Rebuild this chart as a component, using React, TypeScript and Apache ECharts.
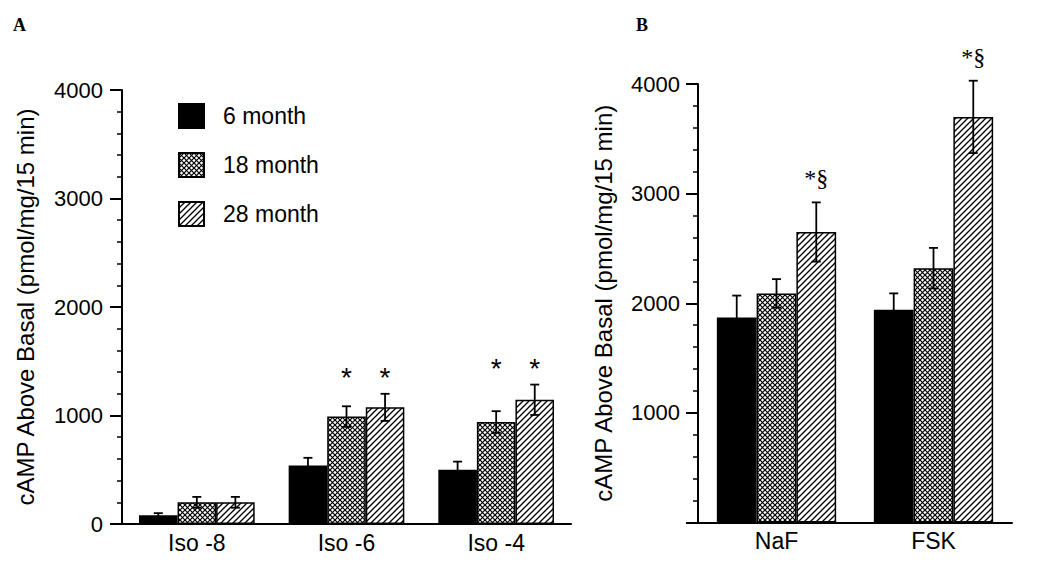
import React, { useEffect, useRef } from 'react';
import * as echarts from 'echarts';

// ---------- data ----------
const seriesNames = ['6 month', '18 month', '28 month'];

const categoriesA = ['Iso -8', 'Iso -6', 'Iso -4'];
const month6A = [80, 540, 500];
const month6AErr = [20, 70, 75];
const month18A = [200, 990, 940];
const month18AErr = [50, 95, 100];
const month28A = [200, 1075, 1145];
const month28AErr = [50, 125, 140];
const sig18A = ['', '*', '*'];
const sig28A = ['', '*', '*'];

const categoriesB = ['NaF', 'FSK'];
const month6B = [1870, 1940];
const month6BErr = [200, 150];
const month18B = [2090, 2320];
const month18BErr = [130, 185];
const month28B = [2650, 3700];
const month28BErr = [270, 330];
const sig28B = ['*§', '*§'];

const yTicks = [0, 1000, 2000, 3000, 4000];

const SANS = 'Liberation Sans, Arial, Helvetica, sans-serif';
const SERIF = 'Liberation Serif, Times New Roman, serif';

function makePattern(kind: 'hatch' | 'cross') {
  const s = kind === 'hatch' ? 6 : 5;
  const c = document.createElement('canvas');
  c.width = s;
  c.height = s;
  const ctx = c.getContext('2d')!;
  ctx.fillStyle = '#fff';
  ctx.fillRect(0, 0, s, s);
  ctx.strokeStyle = '#000';
  ctx.lineWidth = kind === 'hatch' ? 1.3 : 1.2;
  const seg = (x1: number, y1: number, x2: number, y2: number) => {
    ctx.beginPath();
    ctx.moveTo(x1, y1);
    ctx.lineTo(x2, y2);
    ctx.stroke();
  };
  // '/' direction
  seg(-1, s + 1, s + 1, -1);
  seg(-1, 1, 1, -1);
  seg(s - 1, s + 1, s + 1, s - 1);
  if (kind === 'cross') {
    seg(-1, -1, s + 1, s + 1);
    seg(s - 1, -1, s + 1, 1);
    seg(-1, s - 1, 1, s + 1);
  }
  return { image: c, repeat: 'repeat' as const };
}

export default function App() {
  const ref = useRef<HTMLDivElement>(null);
  useEffect(() => {
    if (!ref.current) return;
    const chart = echarts.init(ref.current, undefined, { renderer: 'svg' });
    const fills: any[] = ['#000', makePattern('cross'), makePattern('hatch')];

    const panelA = [
      { mean: month6A, err: month6AErr, sig: ['', '', ''] },
      { mean: month18A, err: month18AErr, sig: sig18A },
      { mean: month28A, err: month28AErr, sig: sig28A },
    ];
    const panelB = [
      { mean: month6B, err: month6BErr, sig: ['', ''] },
      { mean: month18B, err: month18BErr, sig: ['', ''] },
      { mean: month28B, err: month28BErr, sig: sig28B },
    ];
    const gapA = 0.227;
    const gapB = 0.24;

    const barSeries = (panel: any[], gi: number, gap: number) =>
      panel.map((p, i) => ({
        type: 'bar',
        name: seriesNames[i],
        xAxisIndex: gi,
        yAxisIndex: gi,
        data: p.mean,
        barGap: '0%',
        barCategoryGap: gap * 100 + '%',
        itemStyle: { color: fills[i], borderColor: '#000', borderWidth: 1.5 },
      }));

    const errData = (panel: any[]) => {
      const d: number[][] = [];
      panel.forEach((p, si) => p.mean.forEach((m: number, ci: number) => d.push([ci, m, p.err[ci], si])));
      return d;
    };

    const barCenterX = (api: any, ci: number, si: number, gap: number) => {
      const band = api.size([1, 0])[0];
      const bw = (band * (1 - gap)) / 3;
      const c = api.coord([ci, 0])[0];
      return c - 1.5 * bw + (si + 0.5) * bw;
    };

    const errSeries = (panel: any[], gi: number, gap: number) => ({
      type: 'custom',
      xAxisIndex: gi,
      yAxisIndex: gi,
      data: errData(panel),
      z: 5,
      renderItem: (params: any, api: any) => {
        const ci = api.value(0);
        const m = api.value(1);
        const e = api.value(2);
        const si = api.value(3);
        const x = barCenterX(api, ci, si, gap);
        const yT = api.coord([ci, m + e])[1];
        const yB = api.coord([ci, m - e])[1];
        const cap = 4.5;
        const st = { stroke: '#000', lineWidth: 1.8 };
        return {
          type: 'group',
          children: [
            { type: 'line', shape: { x1: x, y1: yT, x2: x, y2: yB }, style: st },
            { type: 'line', shape: { x1: x - cap, y1: yT, x2: x + cap, y2: yT }, style: st },
            { type: 'line', shape: { x1: x - cap, y1: yB, x2: x + cap, y2: yB }, style: st },
          ],
        };
      },
    });

    const sigData = (panel: any[]) => {
      const d: any[] = [];
      panel.forEach((p, si) =>
        p.sig.forEach((t: string, ci: number) => {
          if (!t) return;
          const top = Math.max(...panel.map((q) => q.mean[ci] + q.err[ci]));
          d.push({ value: [ci, top, si], text: t });
        })
      );
      return d;
    };

    const sigSeries = (panel: any[], gi: number, gap: number, font: string, size: number, off: number) => {
      const data = sigData(panel);
      return {
        type: 'custom',
        xAxisIndex: gi,
        yAxisIndex: gi,
        data: data.map((d) => d.value),
        z: 6,
        renderItem: (params: any, api: any) => {
          const ci = api.value(0);
          const top = api.value(1);
          const si = api.value(2);
          const x = barCenterX(api, ci, si, gap);
          const y = api.coord([ci, top])[1];
          return {
            type: 'text',
            x,
            y: y - off,
            style: {
              text: data[params.dataIndex].text,
              fontFamily: font,
              fontSize: size,
              fill: '#000',
              align: 'center',
              verticalAlign: 'middle',
            },
          };
        },
      };
    };

    const xAxisBase = {
      type: 'category',
      axisLine: { show: true, lineStyle: { color: '#000', width: 2 } },
      axisTick: { show: false },
      axisLabel: { fontSize: 23, color: '#000', fontFamily: SANS, margin: 7 },
    };
    const yAxisBase = {
      type: 'value',
      min: yTicks[0],
      max: yTicks[yTicks.length - 1],
      interval: 1000,
      axisLine: { show: true, lineStyle: { color: '#000', width: 2 } },
      axisTick: { show: true, length: 12, lineStyle: { color: '#000', width: 2 } },
      minorTick: { show: true, splitNumber: 5, length: 5, lineStyle: { color: '#000', width: 1.5 } },
      splitLine: { show: false },
      name: 'cAMP Above Basal (pmol/mg/15 min)',
      nameLocation: 'middle',
      nameTextStyle: { fontSize: 24, color: '#000', fontFamily: SANS },
    };

    const option: any = {
      animation: false,
      backgroundColor: '#fff',
      textStyle: { fontFamily: SANS, color: '#000' },
      grid: [
        { left: 122, right: 479, top: 90, bottom: 37 },
        { left: 698, right: 38, top: 84, bottom: 38.5 },
      ],
      legend: {
        data: seriesNames,
        orient: 'vertical',
        left: 178,
        top: 103,
        padding: 0,
        icon: 'rect',
        itemWidth: 25,
        itemHeight: 24,
        itemGap: 23,
        selectedMode: false,
        textStyle: { fontSize: 23, color: '#000', fontFamily: SANS, padding: [0, 0, 0, 14] },
      },
      xAxis: [
        { ...xAxisBase, gridIndex: 0, data: categoriesA },
        { ...xAxisBase, gridIndex: 1, data: categoriesB },
      ],
      yAxis: [
        {
          ...yAxisBase,
          gridIndex: 0,
          nameGap: 85,
          axisLabel: { fontSize: 22, color: '#000', fontFamily: SANS, margin: 19, formatter: (v: number) => String(v) },
        },
        {
          ...yAxisBase,
          gridIndex: 1,
          nameGap: 83,
          axisLabel: {
            fontSize: 22,
            color: '#000',
            fontFamily: SANS,
            margin: 18,
            formatter: (v: number) => (v === 0 ? '' : String(v)),
          },
        },
      ],
      graphic: [
        { type: 'text', left: 13, top: 16, style: { text: 'A', fontFamily: SERIF, fontWeight: 'bold', fontSize: 18, fill: '#000' } },
        { type: 'text', left: 636, top: 16, style: { text: 'B', fontFamily: SERIF, fontWeight: 'bold', fontSize: 18, fill: '#000' } },
      ],
      series: [
        ...barSeries(panelA, 0, gapA),
        ...barSeries(panelB, 1, gapB),
        errSeries(panelA, 0, gapA),
        errSeries(panelB, 1, gapB),
        sigSeries(panelA, 0, gapA, SANS, 28, 16),
        sigSeries(panelB, 1, gapB, SERIF, 24, 24),
      ],
    };
    chart.setOption(option);
    return () => chart.dispose();
  }, []);
  return <div ref={ref} style={{ position: 'fixed', left: 0, top: 0, width: 1050, height: 561 }} />;
}
